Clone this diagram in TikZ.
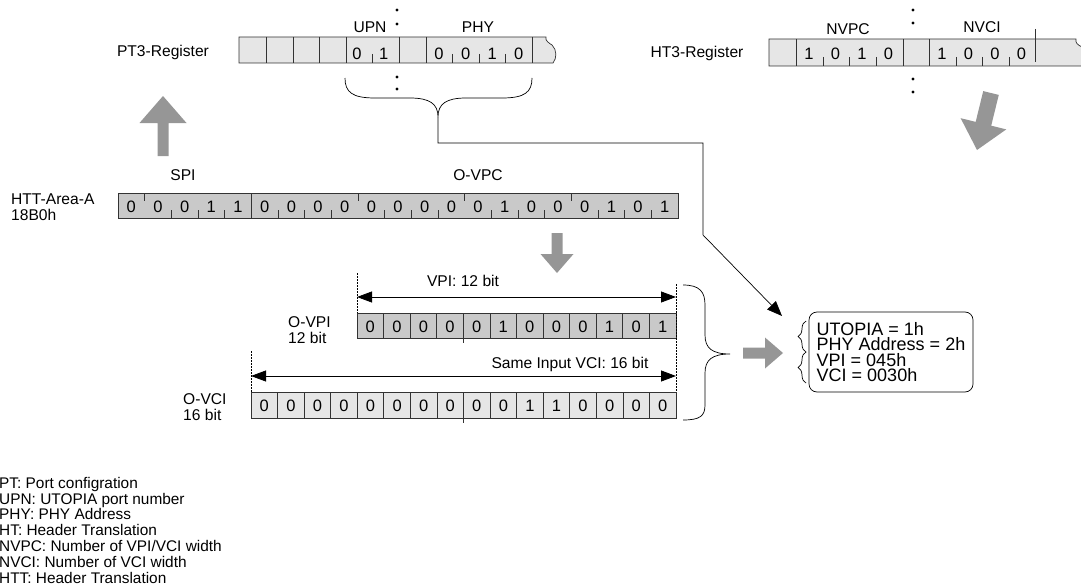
\documentclass[tikz,border=0pt]{standalone}
\usepackage{fontspec}
\setmainfont{Liberation Sans}
\usetikzlibrary{arrows.meta,calc,decorations.pathreplacing}

\definecolor{reglight}{HTML}{E6E6E6}
\definecolor{regdark}{HTML}{C9C9C9}
\definecolor{blockgray}{HTML}{969696}

% fat gray arrow: tail, tip, half shaft, half head, head length
\newcommand{\blockarrow}[5]{%
  \coordinate (hb) at ($(#2)!#5!(#1)$);
  \fill[blockgray] ($(#1)!#3!90:(#2)$) -- ($(hb)!#3!90:(#2)$)
    -- ($(hb)!#4!90:(#2)$) -- (#2) -- ($(hb)!#4!-90:(#2)$)
    -- ($(hb)!#3!-90:(#2)$) -- ($(#1)!#3!-90:(#2)$) -- cycle;}

\begin{document}
\begin{tikzpicture}[x=1pt, y=-1pt,
  lbl/.style={font=\fontsize{15.6}{16}\selectfont, inner sep=0pt},
  bitdigit/.style={font=\fontsize{16.5}{17}\selectfont, inner sep=0pt},
  regbox/.style={draw=black!80, line width=0.7pt},
  bittick/.style={draw=black!80, line width=0.6pt},
  guideline/.style={dash pattern=on 1.5pt off 1.5pt, line width=0.5pt},
  dimarr/.style={{Triangle[length=15pt,width=11pt]}-{Triangle[length=15pt,width=11pt]}, line width=0.8pt},
  conn/.style={-{Triangle[length=15pt,width=12pt]}, line width=0.7pt},
  bracepath/.style={line width=0.7pt}
]
\useasboundingbox (0,0) rectangle (1081,586);

% PT3 register
\node[lbl] (pt3) at (163,52) {PT3-Register};
\filldraw[regbox, fill=reglight] (239,37) -- (546,37) .. controls (545,41) and (549,43) .. (552,45)
  .. controls (557,50) and (557,58) .. (553,63) -- (239,63) -- cycle;
\foreach \x in {266,293,319,346,399,426,532} \draw[regbox] (\x,37) -- (\x,63);
\foreach \x in {372.5,452.5,479,505.5} \draw[bittick] (\x,54) -- (\x,63);
\foreach \b [count=\i from 0] in {0,1} \node[bitdigit] (upn\i) at ({357+\i*26.6},54) {\b};
\foreach \b [count=\i from 0] in {0,0,1,0} \node[bitdigit] (phy\i) at ({439+\i*26.6},54) {\b};
\node[lbl] (upn) at (370,27) {UPN};
\node[lbl] (phy) at (478,27) {PHY};
\foreach \y in {10,24,77,89} \fill (397,\y) circle (1.6);

% brace under UPN/PHY
\draw[bracepath] (345,78) .. controls (345,92) and (352,98) .. (375,98) -- (410,98)
  .. controls (430,98) and (438,104) .. (438,117) .. controls (438,104) and (446,98) .. (466,98)
  -- (502,98) .. controls (525,98) and (532,92) .. (532,78);
\coordinate (ptbrace) at (438,117);

% HT3 register
\node[lbl] (ht3) at (697,53) {HT3-Register};
\filldraw[regbox, fill=reglight] (769,39) -- (1076,39) .. controls (1075,43) and (1078,45) .. (1082,47)
  -- (1090,47) -- (1090,66) -- (769,66) -- cycle;
\foreach \x in {796,903,929} \draw[regbox] (\x,39) -- (\x,66);
\draw[regbox] (1035,29) -- (1035,62);
\foreach \x in {823,849.5,876,956,982,1009} \draw[bittick] (\x,57) -- (\x,66);
\foreach \b [count=\i from 0] in {1,0,1,0} \node[bitdigit] (nvpc\i) at ({809+\i*26.5},54) {\b};
\foreach \b [count=\i from 0] in {1,0,0,0} \node[bitdigit] (nvci\i) at ({942+\i*26.5},54) {\b};
\node[lbl] (nvpc) at (848,29) {NVPC};
\node[lbl] (nvci) at (982,27) {NVCI};
\foreach \y in {10,23,79,92} \fill (913,\y) circle (1.6);

% HTT-Area-A
\node[lbl, anchor=west, align=left] (httlbl) at (11,207) {HTT-Area-A\\18B0h};
\node[lbl] (spi) at (183,175) {SPI};
\node[lbl] (ovpc) at (478,175) {O-VPC};
\filldraw[regbox, fill=regdark] (118,193) rectangle (678,218);
\draw[regbox] (251.3,193) -- (251.3,218);
\foreach \k in {1,9,13,17} \draw[bittick] ({118+\k*26.667},193) -- ++(0,8);
\foreach \k in {2,3,4,6,7,8,10,11,12,14,15,16,18,19,20} \draw[bittick] ({118+\k*26.667},218) -- ++(0,-8);
\foreach \b [count=\i from 0] in {0,0,0,1,1,0,0,0,0,0,0,0,0,0,1,0,0,0,1,0,1}
  \node[bitdigit] (htt\i) at ({118+(\i+0.5)*26.667},206.5) {\b};

% O-VPI
\node[lbl, anchor=west, align=left] (ovpi) at (288,330) {O-VPI\\12 bit};
\filldraw[regbox, fill=regdark] (357,313) rectangle (676,338);
\foreach \k in {1,...,11} \draw[regbox] ({357+\k*26.583},313) -- ++(0,25);
\draw[regbox] (463.3,338) -- ++(0,5);
\foreach \b [count=\i from 0] in {0,0,0,0,0,1,0,0,0,1,0,1}
  \node[bitdigit] (vpi\i) at ({357+(\i+0.5)*26.583},326.5) {\b};

% O-VCI
\node[lbl, anchor=west, align=left] (ovci) at (183,407) {O-VCI\\16 bit};
\filldraw[regbox, fill=reglight] (251,392) rectangle (676,418);
\foreach \k in {1,...,15} \draw[regbox] ({251+\k*26.5625},392) -- ++(0,26);
\draw[regbox] (463.5,418) -- ++(0,5);
\foreach \b [count=\i from 0] in {0,0,0,0,0,0,0,0,0,0,1,1,0,0,0,0}
  \node[bitdigit] (vci\i) at ({251+(\i+0.5)*26.5625},405.5) {\b};

% widths
\coordinate (vpiL) at (357,297);
\coordinate (vpiR) at (676,297);
\coordinate (vciL) at (251,376);
\coordinate (vciR) at (676,376);
\draw[guideline] (357,273) -- (357,313);
\draw[guideline] (676,284) -- (676,392);
\draw[guideline] (251,351) -- (251,392);
\draw[dimarr] (vpiL) -- (vpiR);
\draw[dimarr] (vciL) -- (vciR);
\node[lbl] (vpilbl) at (463,281) {VPI: 12 bit};
\node[lbl] (vcilbl) at (570,364) {Same Input VCI: 16 bit};

% big brace
\draw[bracepath] (683,285) .. controls (700,285) and (705,292) .. (705,305) -- (705,335)
  .. controls (705,348) and (712,354) .. (730,354) .. controls (712,354) and (705,360) .. (705,373)
  -- (705,405) .. controls (705,416) and (700,420) .. (683,420);

% result
\node[draw, line width=0.7pt, rounded corners=8pt, align=left, inner xsep=6pt,
      minimum width=164pt, minimum height=80pt, font=\fontsize{18}{15.3}\selectfont]
  (res) at (891,352) {UTOPIA = 1h\\PHY Address = 2h\\VPI = 045h\\VCI = 0030h};
\draw[bracepath, decorate, decoration={brace, amplitude=8pt}] (806,352) -- (806,321);
\draw[bracepath, decorate, decoration={brace, amplitude=8pt}] (806,383) -- (806,352);

% brace to result
\coordinate (bend) at (703,235);
\coordinate (hit) at (782,316);
\draw[conn] (ptbrace) -- ++(0,26) -| (bend) -- (hit);

% gray arrows
\coordinate (upT) at (163,156);
\coordinate (upP) at (163,96);
\blockarrow{upT}{upP}{5.5pt}{23.5pt}{27pt}
\coordinate (dnT) at (557,233);
\coordinate (dnP) at (557,273);
\blockarrow{dnT}{dnP}{5.5pt}{16.5pt}{19pt}
\coordinate (rtT) at (743,353);
\coordinate (rtP) at (783,353);
\blockarrow{rtT}{rtP}{5.5pt}{15.5pt}{18pt}
\coordinate (dgT) at (991,93);
\coordinate (dgP) at (977,150);
\blockarrow{dgT}{dgP}{8pt}{23.5pt}{27pt}

% legend
\node[anchor=north west, align=left, inner sep=0pt, font=\fontsize{15.4}{15.8}\selectfont]
  (legend) at (-1,477) {PT: Port configration\\UPN: UTOPIA port number\\PHY: PHY Address\\HT: Header Translation\\NVPC: Number of VPI/VCI width\\NVCI: Number of VCI width\\HTT: Header Translation};
\end{tikzpicture}
\end{document}
